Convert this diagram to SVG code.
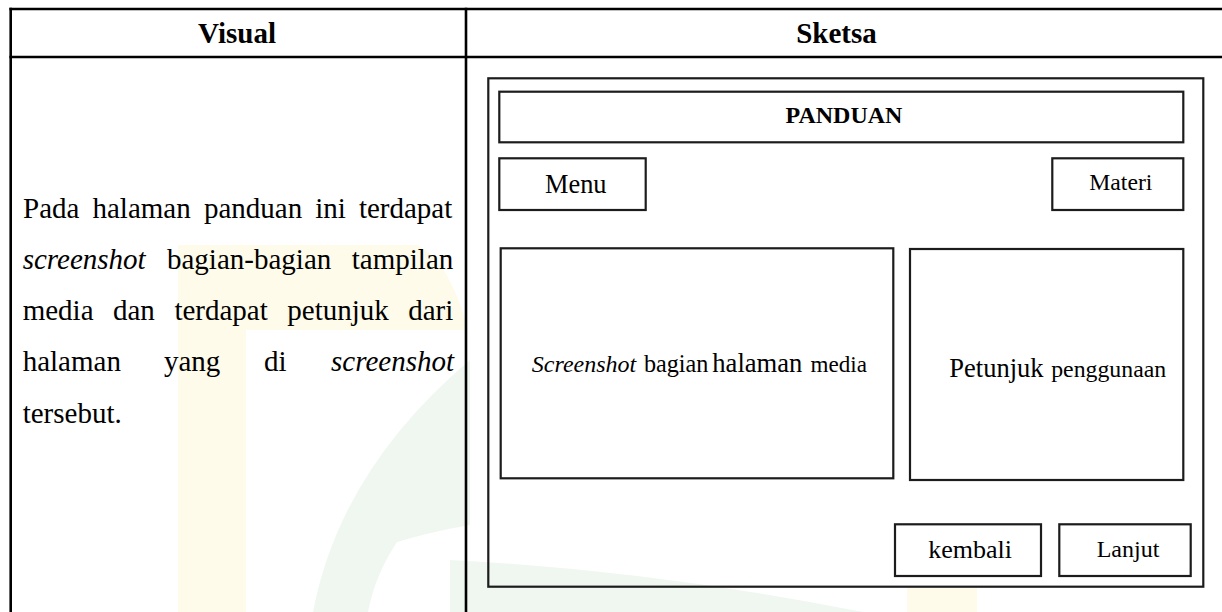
<svg xmlns="http://www.w3.org/2000/svg" width="1222" height="612" viewBox="0 0 1222 612">
  <style>
    text { font-family: "Liberation Serif", serif; fill: #000; }
    .head { font-size: 29px; font-weight: bold; text-anchor: middle; }
    .body { font-size: 29px; }
    .it { font-style: italic; }
    .grid { stroke: #000; stroke-width: 2.6; fill: none; }
    .box { fill: none; stroke: #1c1c1c; stroke-width: 2.2; }
    .wm-y { fill: #fffbea; }
    .wm-g { fill: #f0f7f0; }
  </style>

  <rect width="1222" height="612" fill="#fff"/>

  <!-- faint background logo -->
  <g id="background-logo">
    <path class="wm-y" d="M178 245 H418 Q450 262 468 330 H246 V612 H178 Z"/>
    <rect class="wm-y" x="907" y="588" width="70" height="24"/>
    <path class="wm-g" d="M313 612 Q340 470 470 360 L470 525 Q430 532 397 542 Q375 575 368 612 Z"/>
    <path class="wm-g" d="M450 560 Q650 570 863 612 L450 612 Z"/>
  </g>

  <!-- table frame -->
  <g id="table">
    <line class="grid" x1="9.4" y1="9" x2="1222" y2="9"/>
    <line class="grid" x1="9.4" y1="57" x2="1222" y2="57"/>
    <line class="grid" x1="10.7" y1="7.7" x2="10.7" y2="612"/>
    <line class="grid" x1="466" y1="7.7" x2="466" y2="612"/>
    <text class="head" x="237" y="43">Visual</text>
    <text class="head" x="836.5" y="43">Sketsa</text>
  </g>

  <!-- description column, justified word by word -->
  <g id="description">
    <text class="body" y="218"><tspan x="23">Pada</tspan><tspan x="92.5">halaman</tspan><tspan x="203.9">panduan</tspan><tspan x="315.3">ini</tspan><tspan x="452.3" text-anchor="end">terdapat</tspan></text>
    <text class="body" y="269"><tspan x="22.7" class="it">screenshot</tspan><tspan x="167">bagian-bagian</tspan><tspan x="453.3" text-anchor="end">tampilan</tspan></text>
    <text class="body" y="320"><tspan x="22.7">media</tspan><tspan x="113">dan</tspan><tspan x="174.4">terdapat</tspan><tspan x="287.3">petunjuk</tspan><tspan x="453.3" text-anchor="end">dari</tspan></text>
    <text class="body" y="371"><tspan x="22.7">halaman</tspan><tspan x="164">yang</tspan><tspan x="264">di</tspan><tspan x="454" text-anchor="end" class="it">screenshot</tspan></text>
    <text class="body" y="423"><tspan x="22.7">tersebut.</tspan></text>
  </g>

  <!-- sketch of the guide page -->
  <g id="sketch-frame">
    <rect class="box" x="488.3" y="78.3" width="715" height="508.4"/>
  </g>
  <g id="title-bar">
    <rect class="box" x="499.3" y="91.7" width="684" height="50.6"/>
    <text x="844" y="123.3" font-size="24" font-weight="bold" text-anchor="middle">PANDUAN</text>
  </g>
  <g id="menu-button">
    <rect class="box" x="499.3" y="158.3" width="146.4" height="51.7"/>
    <text x="545" y="192.7" font-size="26.4">Menu</text>
  </g>
  <g id="materi-button">
    <rect class="box" x="1052.3" y="158.3" width="131" height="51.7"/>
    <text x="1089.3" y="190" font-size="23.7">Materi</text>
  </g>
  <g id="screenshot-panel">
    <rect class="box" x="500.7" y="248.3" width="392.6" height="230"/>
    <text y="371.7"><tspan class="it" x="531.8" font-size="24">Screenshot</tspan><tspan x="643.9" font-size="24.2">bagian</tspan><tspan x="712.3" font-size="26.6">halaman</tspan><tspan x="867" text-anchor="end" font-size="23.1">media</tspan></text>
  </g>
  <g id="guide-panel">
    <rect class="box" x="910" y="249" width="273.3" height="231"/>
    <text y="376.7"><tspan x="949.3" font-size="26.5">Petunjuk</tspan><tspan x="1166.2" text-anchor="end" font-size="23.8">penggunaan</tspan></text>
  </g>
  <g id="back-button">
    <rect class="box" x="895" y="524.3" width="146" height="51.7"/>
    <text x="928.3" y="558.3" font-size="26">kembali</text>
  </g>
  <g id="next-button">
    <rect class="box" x="1059.3" y="524.3" width="131.4" height="51.7"/>
    <text x="1096.7" y="556.7" font-size="24">Lanjut</text>
  </g>
</svg>
